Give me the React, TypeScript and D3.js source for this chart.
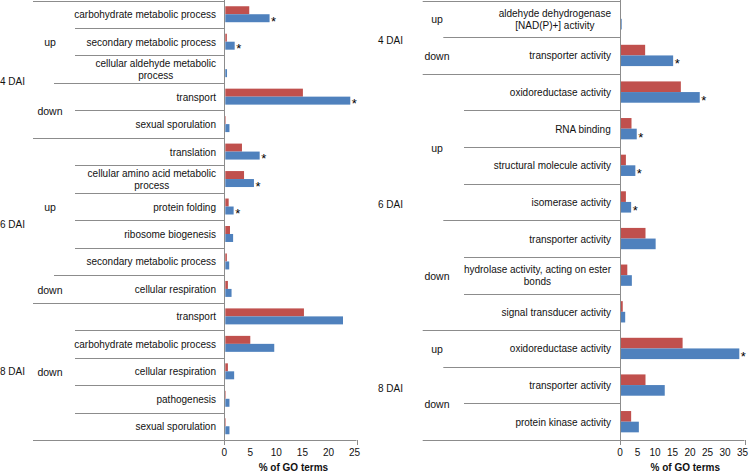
import React from "react";
import * as d3 from "d3";

// ---------- Data: left panel (biological process) ----------
const leftCategories = [
  "carbohydrate metabolic process",
  "secondary metabolic process",
  "cellular aldehyde metabolic process",
  "transport",
  "sexual sporulation",
  "translation",
  "cellular amino acid metabolic process",
  "protein folding",
  "ribosome biogenesis",
  "secondary metabolic process",
  "cellular respiration",
  "transport",
  "carbohydrate metabolic process",
  "cellular respiration",
  "pathogenesis",
  "sexual sporulation",
];
const leftPhase = [
  "4 DAI", "4 DAI", "4 DAI", "4 DAI", "4 DAI",
  "6 DAI", "6 DAI", "6 DAI", "6 DAI", "6 DAI", "6 DAI",
  "8 DAI", "8 DAI", "8 DAI", "8 DAI", "8 DAI",
];
const leftDirection = [
  "up", "up", "up", "down", "down",
  "up", "up", "up", "up", "up", "down",
  "down", "down", "down", "down", "down",
];
const leftReference = [4.6, 0.3, 0, 14.9, 0.1, 3.2, 3.6, 0.65, 0.9, 0.3, 0.5, 15.1, 4.8, 0.5, 0.1, 0.1];
const leftRegulated = [8.5, 1.8, 0.33, 24.0, 0.8, 6.6, 5.5, 1.6, 1.5, 0.75, 1.2, 22.6, 9.4, 1.7, 0.8, 0.8];
const leftSignificant = [true, true, false, true, false, true, true, true, false, false, false, false, false, false, false, false];
const leftTicks = [0, 5, 10, 15, 20, 25];

// ---------- Data: right panel (molecular function) ----------
const rightCategories = [
  "aldehyde dehydrogenase [NAD(P)+] activity",
  "transporter activity",
  "oxidoreductase activity",
  "RNA binding",
  "structural molecule activity",
  "isomerase activity",
  "transporter activity",
  "hydrolase activity, acting on ester bonds",
  "signal transducer activity",
  "oxidoreductase activity",
  "transporter activity",
  "protein kinase activity",
];
const rightPhase = [
  "4 DAI", "4 DAI",
  "6 DAI", "6 DAI", "6 DAI", "6 DAI", "6 DAI", "6 DAI", "6 DAI",
  "8 DAI", "8 DAI", "8 DAI",
];
const rightDirection = [
  "up", "down",
  "up", "up", "up", "up", "down", "down", "down",
  "up", "down", "down",
];
const rightReference = [0, 6.9, 17.1, 3.0, 1.4, 1.4, 7.0, 1.8, 0.5, 17.6, 7.0, 2.9];
const rightRegulated = [0.2, 14.9, 22.5, 4.5, 4.1, 2.9, 9.9, 3.1, 1.2, 33.8, 12.5, 5.1];
const rightSignificant = [false, true, true, true, true, true, false, false, false, true, false, false];
const rightTicks = [0, 5, 10, 15, 20, 25, 30, 35];

// wrapped label lines
const labelLines: Record<string, string[]> = {
  "cellular aldehyde metabolic process": ["cellular aldehyde metabolic", "process"],
  "cellular amino acid metabolic process": ["cellular amino acid metabolic", "process"],
  "aldehyde dehydrogenase [NAD(P)+] activity": ["aldehyde dehydrogenase", "[NAD(P)+] activity"],
  "hydrolase activity, acting on ester bonds": ["hydrolase activity, acting on ester", "bonds"],
};

const FONT = "'Liberation Sans', Arial, Helvetica, sans-serif";
const RED = "#C0504D";
const BLUE = "#4F81BD";
const GRID = "#8c8c8c";
const TEXT = "#111";

let ctx: CanvasRenderingContext2D | null = null;
function measure(t: string, size: number) {
  if (!ctx) {
    const c = document.createElement("canvas");
    ctx = c.getContext("2d");
  }
  if (!ctx) return t.length * size * 0.5;
  ctx.font = `${size}px ${FONT}`;
  return ctx.measureText(t).width;
}

type PanelProps = {
  categories: string[];
  phase: string[];
  direction: string[];
  reference: number[];
  regulated: number[];
  significant: boolean[];
  ticks: number[];
  x0: number;
  x1: number;
  labelRight: number;
  lineStarts: [number, number, number];
  phaseX: number;
  dirX: number;
  phaseDy: Record<string, number>;
};

function runs(keys: string[]) {
  const out: { key: string; start: number; end: number }[] = [];
  keys.forEach((k, i) => {
    const last = out[out.length - 1];
    if (last && last.key === k) last.end = i;
    else out.push({ key: k, start: i, end: i });
  });
  return out;
}

function Panel(p: PanelProps) {
  const top = 0.5;
  const bottom = 440;
  const n = p.categories.length;
  const idx = d3.range(n).map(String);
  const y = d3.scaleBand<string>().domain(idx).range([top, bottom]).paddingInner(0).paddingOuter(0);
  const sub = d3
    .scaleBand<string>()
    .domain(["reference", "regulated"])
    .range([0, y.bandwidth()])
    .paddingInner(0)
    .paddingOuter(0.72);
  const max = p.ticks[p.ticks.length - 1];
  const x = d3.scaleLinear().domain([0, max]).range([p.x0, p.x1]);

  const seps: { yv: number; xs: number }[] = [];
  for (let b = 0; b <= n; b++) {
    let level = 0;
    if (b === 0 || b === n || p.phase[b] !== p.phase[b - 1]) level = 0;
    else if (p.direction[b] !== p.direction[b - 1]) level = 1;
    else level = 2;
    const yv = b === n ? bottom : (y(String(b)) as number);
    seps.push({ yv: Math.round(yv) + 0.5, xs: p.lineStarts[level] });
  }

  const phaseRuns = runs(p.phase);
  const dirRuns = runs(p.phase.map((ph, i) => ph + "|" + p.direction[i]));

  return (
    <g>
      {seps.map((s, i) => (
        <line key={"s" + i} x1={s.xs} x2={i === n ? x(max) + 2 : p.x0} y1={s.yv} y2={s.yv} stroke={GRID} strokeWidth={1} />
      ))}
      <line x1={Math.round(p.x0) + 0.5} x2={Math.round(p.x0) + 0.5} y1={0} y2={bottom + 5} stroke={GRID} strokeWidth={1} />
      <line x1={Math.round(x(max) + 2) + 0.5} x2={Math.round(x(max) + 2) + 0.5} y1={bottom} y2={bottom + 5} stroke={GRID} strokeWidth={1} />

      {p.categories.map((c, i) => {
        const by = y(String(i)) as number;
        const ry = by + (sub("reference") as number);
        const gy = by + (sub("regulated") as number);
        const h = sub.bandwidth();
        return (
          <g key={"b" + i}>
            <rect x={x(0) + 1} y={ry} width={Math.max(0, x(p.reference[i]) - x(0))} height={h} fill={RED} />
            <rect x={x(0) + 1} y={gy} width={Math.max(0, x(p.regulated[i]) - x(0))} height={h} fill={BLUE} />
            {p.significant[i] && (
              <text x={x(p.regulated[i]) + 2.5} y={gy + h / 2 + 7.5} fontSize={13} fontFamily={FONT} fill="#000">
                *
              </text>
            )}
          </g>
        );
      })}

      {p.categories.map((c, i) => {
        const cy = (y(String(i)) as number) + y.bandwidth() / 2 + 0.5;
        const lines = labelLines[c] || [c];
        const widths = lines.map((l) => measure(l, 10));
        const wmax = Math.max(...widths);
        const cx = p.labelRight - wmax / 2;
        const lh = 11.7;
        return (
          <text key={"l" + i} fontSize={10} fontFamily={FONT} fill={TEXT} textAnchor="middle">
            {lines.map((l, j) => (
              <tspan key={j} x={cx} y={cy + (j - (lines.length - 1) / 2) * lh} dy="0.35em">
                {l}
              </tspan>
            ))}
          </text>
        );
      })}

      {dirRuns.map((r, i) => {
        const yc = ((y(String(r.start)) as number) + (y(String(r.end)) as number) + y.bandwidth()) / 2;
        return (
          <text key={"d" + i} x={p.dirX} y={yc + 1} dy="0.35em" textAnchor="middle" fontSize={10.5} fontFamily={FONT} fill={TEXT}>
            {r.key.split("|")[1]}
          </text>
        );
      })}
      {phaseRuns.map((r, i) => {
        const yc = ((y(String(r.start)) as number) + (y(String(r.end)) as number) + y.bandwidth()) / 2;
        return (
          <text key={"p" + i} x={p.phaseX} y={yc + (p.phaseDy[r.key] || 3)} dy="0.35em" textAnchor="start" fontSize={10} fontFamily={FONT} fill={TEXT}>
            {r.key}
          </text>
        );
      })}

      {p.ticks.map((t) => (
        <text key={"t" + t} x={x(t)} y={452} dy="0.35em" textAnchor="middle" fontSize={10} fontFamily={FONT} fill={TEXT}>
          {t}
        </text>
      ))}
      <text x={(p.x0 + p.x1) / 2 + 4} y={471} textAnchor="middle" fontSize={10} fontWeight="bold" fontFamily={FONT} fill={TEXT}>
        % of GO terms
      </text>
    </g>
  );
}

export default function App() {
  return (
    <div style={{ position: "absolute", left: 0, top: 0, width: 750, height: 474, background: "#fff" }}>
      <svg width={750} height={474} viewBox="0 0 750 474" style={{ display: "block" }}>
        <rect width={750} height={474} fill="#fff" />
        <Panel
          categories={leftCategories}
          phase={leftPhase}
          direction={leftDirection}
          reference={leftReference}
          regulated={leftRegulated}
          significant={leftSignificant}
          ticks={leftTicks}
          x0={224.3}
          x1={354.5}
          labelRight={216}
          lineStarts={[33, 54, 75]}
          phaseX={0}
          dirX={50}
          phaseDy={{ "4 DAI": 12, "6 DAI": 4, "8 DAI": 0.5 }}
        />
        <Panel
          categories={rightCategories}
          phase={rightPhase}
          direction={rightDirection}
          reference={rightReference}
          regulated={rightRegulated}
          significant={rightSignificant}
          ticks={rightTicks}
          x0={620}
          x1={742.5}
          labelRight={611}
          lineStarts={[422.7, 443.3, 464]}
          phaseX={378}
          dirX={437}
          phaseDy={{ "4 DAI": 3, "6 DAI": 3, "8 DAI": 0 }}
        />
      </svg>
    </div>
  );
}
